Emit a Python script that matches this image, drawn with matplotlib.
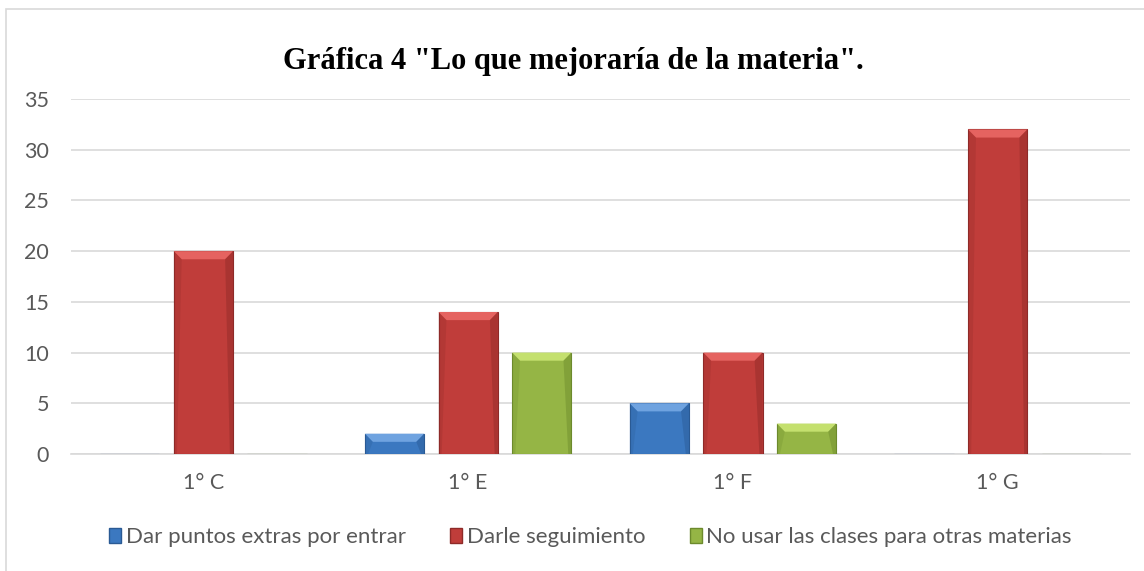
import matplotlib.pyplot as plt
import numpy as np
from matplotlib.patches import Polygon, Rectangle, Patch

grupos = ['1° C', '1° E', '1° F', '1° G']
series = ['Dar puntos extras por entrar', 'Darle seguimiento', 'No usar las clases para otras materias']
puntos_extras = [0, 2, 5, 0]
seguimiento = [20, 14, 10, 32]
no_usar = [0, 10, 3, 0]
valores = [puntos_extras, seguimiento, no_usar]

colores = ['#3B78C0', '#C03D3A', '#95B545']
claros = ['#6FA3E0', '#E56360', '#C4E06E']
oscuros = ['#2A5A94', '#8E2A28', '#6C8A2C']

plt.rcParams['font.family'] = ['Lato', 'DejaVu Sans']

fig = plt.figure(figsize=(11.44, 5.71), dpi=100)
ax = fig.add_axes([0.0621, 0.2049, 0.9257, 0.6217])

# marco del grafico
fig.patches.append(Rectangle((6 / 1144, -0.1), 1.2, 1 - 9 / 571 + 0.1, transform=fig.transFigure,
                             fill=False, edgecolor='#D9D9D9', linewidth=1.2))

x = np.arange(len(grupos))
ancho = 0.224
paso = 0.278
bx = 0.03   # bisel en unidades x
by = 0.8    # bisel en unidades y

for i, vals in enumerate(valores):
    pos = x + (i - 1) * paso
    barras = ax.bar(pos, vals, ancho, color=colores[i], edgecolor=oscuros[i], linewidth=0.8, zorder=3)
    for b, v in zip(barras, vals):
        if v == 0:
            continue
        x0 = b.get_x()
        x1 = x0 + b.get_width()
        h = b.get_height()
        # sombra
        ax.add_patch(Rectangle((x0 + 0.004, -0.35), x1 - x0, 0.35, color='#D0D0D0', alpha=0.6, zorder=2, lw=0))
        bb = min(by, h / 2)
        # bisel superior
        ax.add_patch(Polygon([(x0, h), (x1, h), (x1 - bx, h - bb), (x0 + bx, h - bb)],
                             closed=True, facecolor=claros[i], edgecolor='none', zorder=4))
        # lados oscuros
        ax.add_patch(Polygon([(x1, h), (x1, 0), (x1 - bx * 0.4, 0), (x1 - bx, h - bb)],
                             closed=True, facecolor=oscuros[i], edgecolor='none', alpha=0.45, zorder=4))
        ax.add_patch(Polygon([(x0, h), (x0, 0), (x0 + bx * 0.4, 0), (x0 + bx, h - bb)],
                             closed=True, facecolor=oscuros[i], edgecolor='none', alpha=0.25, zorder=4))

ax.set_xlim(-0.5, len(grupos) - 0.5)
ax.set_ylim(0, 35)
ax.set_yticks(np.arange(0, 36, 5))
ax.set_xticks(x)
ax.set_xticklabels(grupos)
ax.yaxis.grid(True, color='#D9D9D9', linewidth=1.2, zorder=0)
ax.set_axisbelow(True)
for s in ['top', 'right', 'left']:
    ax.spines[s].set_visible(False)
ax.spines['bottom'].set_color('#D9D9D9')
ax.spines['bottom'].set_linewidth(1.2)
ax.tick_params(axis='both', length=0, labelsize=15.5, labelcolor='#595959')
ax.tick_params(axis='y', pad=16)
ax.tick_params(axis='x', pad=14)

fig.text(0.501, 0.893, 'Gráfica 4 "Lo que mejoraría de la materia".', ha='center', va='center',
         fontsize=22, fontweight='bold', family='Liberation Serif')

handles = [Patch(facecolor=colores[i], edgecolor=oscuros[i]) for i in range(3)]
fig.legend(handles, series, loc='center', bbox_to_anchor=(0.516, 0.059), ncol=3, frameon=False,
           fontsize=16, labelcolor='#595959', handlelength=0.55, handleheight=0.7,
           handletextpad=0.2, columnspacing=2.0)

fig.savefig('out.png', dpi=100)
